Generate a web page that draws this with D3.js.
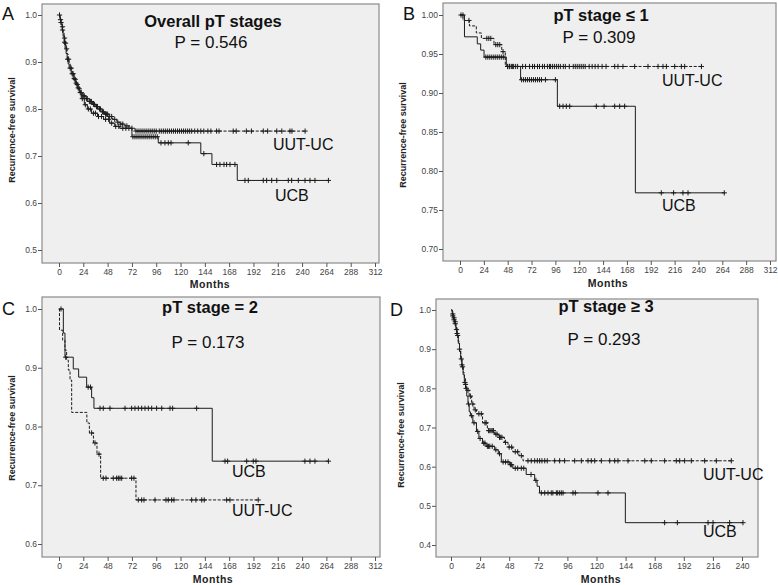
<!DOCTYPE html>
<html><head><meta charset="utf-8">
<script src="https://cdn.jsdelivr.net/npm/d3@7/dist/d3.min.js"></script>
<style>
body{margin:0;background:#fff;}
svg{display:block;font-family:"Liberation Sans",Arial,sans-serif;}
</style>
</head><body>
<svg id="chart" width="778" height="585"></svg>
<script>
// ---------------- DATA ----------------
const monthTicks312 = [0,24,48,72,96,120,144,168,192,216,240,264,288,312];
const monthTicks240 = [0,24,48,72,96,120,144,168,192,216,240];
const yTicksA = [0.5,0.6,0.7,0.8,0.9,1.0];
const yTicksB = [0.70,0.75,0.80,0.85,0.90,0.95,1.00];
const yTicksC = [0.6,0.7,0.8,0.9,1.0];
const yTicksD = [0.4,0.5,0.6,0.7,0.8,0.9,1.0];
const seriesNames = ["UCB","UUT-UC"];
const panelTitles = ["Overall pT stages","pT stage \u2264 1","pT stage = 2","pT stage \u2265 3"];
const pValues = ["P = 0.546","P = 0.309","P = 0.173","P = 0.293"];

// Panel A (overall) – [months, survival] after each event
const A_ucb_steps = [[0,1.0],[1,0.99],[2,0.98],[3,0.968],[4,0.955],[5,0.942],[6,0.93],[7,0.918],[8,0.906],[9,0.896],[10,0.887],[12,0.875],[14,0.865],[16,0.855],[18,0.845],[20,0.835],[22,0.822],[25,0.809],[28,0.80],[32,0.791],[38,0.784],[44,0.778],[50,0.77],[55,0.763],[60,0.759],[72,0.741],[98,0.728],[140,0.705],[151,0.682],[176,0.648]];
const A_ucb_end = 266;
const A_ucb_cens = [1.5,3.5,5.5,8.5,11,13,15,17,19,21,23,26,29,31,34,36,39,42,46,49,52,56,59,63,66,69,73,75,77,79,81,83,85,87,89,91,93,95,97,100.7,104.6,107.9,110.6,127.6,143,155.6,158.9,162.9,165.5,168.8,173.7,183.6,186.9,201.7,205,210,215,226.4,229.7,236.3,242.9,247.8,252.7,266];
const A_uut_steps = [[0,1.0],[1,0.992],[2,0.984],[3,0.975],[4,0.963],[5,0.951],[6,0.94],[7,0.928],[8,0.917],[9,0.906],[10,0.896],[11,0.887],[13,0.875],[15,0.863],[17,0.852],[19,0.843],[21,0.835],[23,0.828],[26,0.822],[29,0.816],[33,0.81],[36,0.805],[39,0.8],[42,0.794],[45,0.789],[49,0.784],[53,0.778],[57,0.772],[60,0.768],[65,0.764],[70,0.759],[75,0.753]];
const A_uut_end = 243;
const A_uut_cens = [0.5,2,3.5,5.5,6.5,7.5,9.5,12,14,16,18,20,22,24,25,27,28,30,31,32,34,35,37,38,40,41,43,44,46,47,48,50,52,55,58,61,63,67,72,76,78,80,82,84,86,88,90,92,94,96,99,101,103,105,107,109,111,113,115,117,119,121,123,125,127,129,131,134,137,140,143,147,150,155.6,158,172,175,185,190,201.7,206,215,220,228,230,243];

// Panel B (pT <= 1)
const B_ucb_steps = [[0,1.0],[4.5,0.972],[17.4,0.963],[20.8,0.955],[24.2,0.946],[46.6,0.934],[61,0.917],[98,0.883],[176.5,0.772]];
const B_ucb_end = 266;
const B_ucb_cens = [3,26,28,30,32,34,36,38,40,42,44,48,50,53,62,64,66,68,70,72,74,76,78,80,82,86,96,100.3,103.7,107,110.4,137.2,145,155.7,160.7,165.7,202.6,215,224.4,229.5,266];
const B_uut_steps = [[0,1.0],[3,0.993],[9.5,0.986],[16.4,0.977],[21.5,0.970],[34.2,0.962],[42,0.953],[45.6,0.934]];
const B_uut_end = 243;
const B_uut_cens = [1,9,27,29,31,36,38,40,43.3,48,50,52,54,56,58,63,66,70,73,75,78,80,83,85,88,90,91,93,95,97,99,101,104,106,110,114,116,118,120,122,124,126,130,133,136,139,143,147,155.7,159,164,175.8,189.2,199.3,204.3,207.7,216.1,222.8,226.1,243];

// Panel C (pT = 2)
const C_ucb_steps = [[0,1.0],[4.3,0.959],[5.9,0.918],[14.1,0.898],[19.4,0.884],[27.3,0.867],[32.2,0.849],[34.5,0.831],[151.3,0.741]];
const C_ucb_end = 266;
const C_ucb_cens = [2,6.6,28.8,31.1,40.5,43.7,50.3,65.2,71.7,75,78.3,81.6,84.9,88.2,91.5,96.4,101.4,109.6,112.2,135.9,163.9,166.5,185.3,191.8,194.5,242.8,247.8,252.7,266];
const C_uut_steps = [[0,1.0],[0.5,0.964],[3.6,0.947],[5.9,0.93],[7.5,0.913],[9.2,0.896],[10.9,0.879],[12.5,0.824],[27.5,0.806],[30,0.789],[34,0.772],[37.5,0.753],[41.1,0.712],[76,0.675]];
const C_uut_end = 196.7;
const C_uut_cens = [32.2,35.5,39.5,43.7,46.4,53.6,56.9,58.6,60.2,61.9,71.7,74,78.3,81.6,83.9,94.8,105.6,107.9,111.2,113.5,131,135.2,140.9,143.4,165.5,168.8,196.7];

// Panel D (pT >= 3)
const D_ucb_steps = [[0,1.0],[1,0.985],[2,0.975],[3,0.965],[4,0.95],[5,0.935],[6,0.915],[7,0.895],[8,0.875],[9,0.855],[10,0.835],[11,0.815],[12,0.8],[13,0.78],[14,0.76],[15,0.74],[16,0.73],[18,0.712],[21,0.69],[23,0.672],[26,0.66],[29,0.652],[36,0.643],[39,0.633],[41.5,0.612],[48.4,0.605],[51,0.596],[62,0.58],[69,0.565],[71,0.55],[73,0.533],[143.8,0.457]];
const D_ucb_end = 240.8;
const D_ucb_cens = [1.5,2.5,3.5,4.5,5.5,8.5,9.5,11.5,12.5,14.5,17,19,22,24,27,28,30,31,32,34,37,40,43,45,47,49,50,53,55,58,60,66,70,74.5,77.3,80,82.7,84,86.9,88,89.6,91,92.4,100.6,102.5,121.2,129.5,176.2,186.7,212,216.1,229.8,240.8];
const D_uut_steps = [[0,1.0],[1,0.99],[2,0.98],[3,0.97],[4,0.955],[5,0.94],[6,0.92],[7,0.9],[8,0.88],[9,0.86],[10,0.84],[11,0.825],[12,0.81],[13,0.795],[15,0.78],[17,0.76],[19,0.745],[21,0.735],[26,0.712],[30,0.692],[36,0.683],[39,0.675],[44,0.662],[47,0.65],[51,0.638],[56,0.628],[59.4,0.615]];
const D_uut_end = 231.2;
const D_uut_cens = [1.5,2.5,3.5,5,7,9,12,14,16,18,20,23,25,28,29,31,32,33,34,35,37,38,40,41,42,45,48,50,53,55,58,63.5,66.2,69,71.2,73.1,75,77.3,79.4,85.5,89.6,93.7,102,107.5,113,115.7,118.5,124,130.9,135,137.7,146,159.8,165.2,176.2,185.8,188.6,192.7,198.2,209.2,218.8,231.2];

// ---------------- LAYOUT ----------------
const panels = [
  {letter:"A", lx:2, ly:20, frame:[42,4,379,263], xr:[59,375], yr:[250,15], xd:[0,312], yd:[0.5,1.0],
   xt:monthTicks312, yt:yTicksA, yf:d3.format(".1f"), tx:213, ty1:27, ty2:48, monthsX:210, monthsY:288, ylabX:12, ylabY:130,
   ucb:[A_ucb_steps,A_ucb_end,A_ucb_cens], uut:[A_uut_steps,A_uut_end,A_uut_cens], ucbLab:[275,201], uutLab:[273,150]},
  {letter:"B", lx:403, ly:20, frame:[443,3,776,261], xr:[460,770], yr:[249,15], xd:[0,312], yd:[0.70,1.00],
   xt:monthTicks312, yt:yTicksB, yf:d3.format(".2f"), tx:601, ty1:21, ty2:43, monthsX:608, monthsY:287, ylabX:403, ylabY:135,
   ucb:[B_ucb_steps,B_ucb_end,B_ucb_cens], uut:[B_uut_steps,B_uut_end,B_uut_cens], ucbLab:[662,211], uutLab:[662,86]},
  {letter:"C", lx:2, ly:315, frame:[42,297,380,557], xr:[59,375], yr:[544,309], xd:[0,312], yd:[0.6,1.0],
   xt:monthTicks312, yt:yTicksC, yf:d3.format(".1f"), tx:210, ty1:313, ty2:348, monthsX:213, monthsY:583, ylabX:12, ylabY:428,
   ucb:[C_ucb_steps,C_ucb_end,C_ucb_cens], uut:[C_uut_steps,C_uut_end,C_uut_cens], ucbLab:[232,477], uutLab:[232,516]},
  {letter:"D", lx:390, ly:316, frame:[436,299,758,557], xr:[451,742], yr:[545,310], xd:[0,240], yd:[0.4,1.0],
   xt:monthTicks240, yt:yTicksD, yf:d3.format(".1f"), tx:606, ty1:312, ty2:345, monthsX:601, monthsY:583, ylabX:401, ylabY:435,
   ucb:[D_ucb_steps,D_ucb_end,D_ucb_cens], uut:[D_uut_steps,D_uut_end,D_uut_cens], ucbLab:[703,537], uutLab:[703,480]}
];

const svg = d3.select("#chart");

function survAt(steps, t){
  let s = steps[0][1];
  for (const st of steps){ if (st[0] <= t) s = st[1]; else break; }
  return s;
}

panels.forEach((p, i) => {
  const g = svg.append("g");
  const [fx0, fy0, fx1, fy1] = p.frame;
  g.append("rect").attr("x", fx0).attr("y", fy0).attr("width", fx1 - fx0).attr("height", fy1 - fy0)
    .attr("fill", "#efefef").attr("stroke", "#8a8a8a").attr("stroke-width", 1.2);

  const x = d3.scaleLinear().domain(p.xd).range(p.xr);
  const y = d3.scaleLinear().domain(p.yd).range(p.yr);

  const yAxis = g.append("g").attr("transform", `translate(${fx0},0)`)
    .call(d3.axisLeft(y).tickValues(p.yt).tickSize(4).tickPadding(1).tickFormat(p.yf));
  const xAxis = g.append("g").attr("transform", `translate(0,${fy1})`)
    .call(d3.axisBottom(x).tickValues(p.xt).tickSize(4).tickPadding(2).tickFormat(d3.format("d")));
  [yAxis, xAxis].forEach(ax => {
    ax.select(".domain").remove();
    ax.selectAll("line").attr("stroke", "#555");
    ax.selectAll("text").attr("fill", "#444").style("font-size", "8.5px").style("font-family", "'Liberation Sans',Arial,sans-serif");
  });

  // curves
  const line = d3.line().x(d => x(d[0])).y(d => y(d[1])).curve(d3.curveStepAfter);
  const drawSeries = (ser, dashed) => {
    const [steps, end, cens] = ser;
    const pts = steps.concat([[end, steps[steps.length - 1][1]]]);
    g.append("path").attr("d", line(pts)).attr("fill", "none")
      .attr("stroke", "#1c1c1c").attr("stroke-width", 1)
      .attr("stroke-dasharray", dashed ? "3,1.6" : null);
    g.append("g").selectAll("path").data(cens).join("path")
      .attr("transform", t => `translate(${x(t)},${y(survAt(steps, t))})`)
      .attr("d", "M-2.6,0H2.6M0,-2.6V2.6")
      .attr("stroke", "#1c1c1c").attr("stroke-width", 1);
  };
  drawSeries(p.uut, true);
  drawSeries(p.ucb, false);

  // texts
  g.append("text").attr("x", p.lx).attr("y", p.ly).text(p.letter)
    .style("font-size", "18px").attr("fill", "#111");
  g.append("text").attr("x", p.tx).attr("y", p.ty1).attr("text-anchor", "middle").text(panelTitles[i])
    .style("font-size", "16.5px").style("font-weight", "bold").attr("fill", "#111");
  g.append("text").attr("x", p.tx - 2).attr("y", p.ty2).attr("text-anchor", "middle").text(pValues[i])
    .style("font-size", "17px").attr("fill", "#111");
  g.append("text").attr("x", p.ucbLab[0]).attr("y", p.ucbLab[1]).text(seriesNames[0])
    .style("font-size", "16px").attr("fill", "#111");
  g.append("text").attr("x", p.uutLab[0]).attr("y", p.uutLab[1]).text(seriesNames[1])
    .style("font-size", "16px").attr("fill", "#111");
  g.append("text").attr("x", p.monthsX).attr("y", p.monthsY).attr("text-anchor", "middle").text("Months")
    .style("font-size", "10.5px").style("font-weight", "bold").style("letter-spacing", "0.5px").attr("fill", "#222");
  g.append("text").attr("transform", `translate(${p.ylabX + 3},${p.ylabY}) rotate(-90)`)
    .attr("text-anchor", "middle").text("Recurrence-free survival")
    .style("font-size", "9px").style("font-weight", "bold").attr("fill", "#222");
});
</script>
</body></html>
